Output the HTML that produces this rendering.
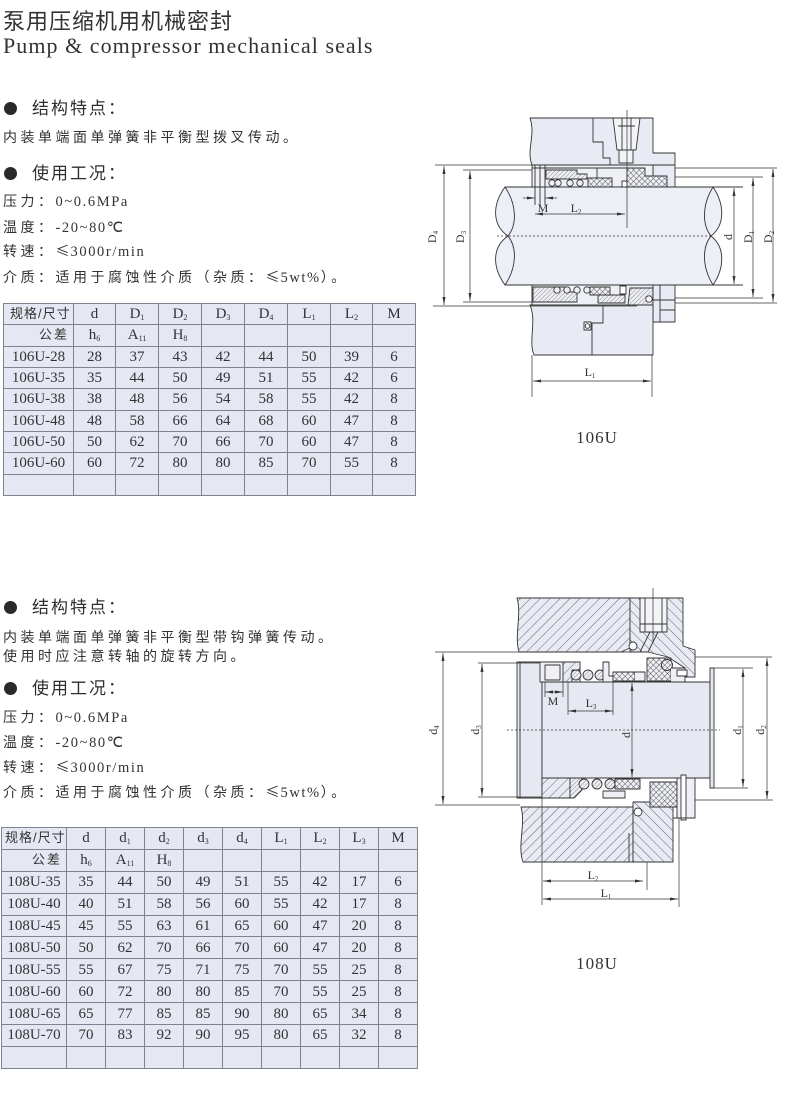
<!DOCTYPE html>
<html><head><meta charset="utf-8">
<style>
html,body{margin:0;padding:0;background:#fff;}
body{width:800px;height:1094px;position:relative;overflow:hidden;color:#2e2e2e;font-family:"Liberation Sans","Noto Sans CJK SC",sans-serif;}
.a{position:absolute;white-space:nowrap;}
.title{left:3px;top:11px;font-size:22px;line-height:22px;letter-spacing:1px;font-family:"Liberation Sans","Noto Sans CJK SC",sans-serif;color:#333;}
.eng{left:3px;top:35px;font-size:22px;line-height:22px;letter-spacing:1.05px;font-family:"Liberation Serif",serif;color:#333;}
.dot{position:absolute;width:13px;height:13px;border-radius:50%;background:#2a2a2a;left:4px;}
.hd{left:32px;font-size:17px;line-height:17px;letter-spacing:2px;font-family:"Liberation Sans","Noto Sans CJK SC",sans-serif;}
.bd{left:3px;font-size:14px;line-height:14px;letter-spacing:3.5px;font-family:"Liberation Sans","Noto Sans CJK SC",sans-serif;color:#333;}
.bd .s{font-family:"Liberation Serif",serif;letter-spacing:1.6px;font-size:14.5px;}
.bd .le{font-family:"Noto Sans CJK SC",sans-serif;font-size:14px;letter-spacing:1px;}
table.t{position:absolute;border-collapse:collapse;table-layout:fixed;background:#e5e8f2;font-family:"Liberation Serif","Noto Sans CJK SC",serif;font-size:15px;color:#333;}
table.t td{border:1px solid #80838f;padding:0;text-align:center;line-height:14px;overflow:hidden;white-space:nowrap;}
table.t td.c{font-family:"Liberation Sans","Noto Sans CJK SC",sans-serif;font-size:13px;letter-spacing:1px;text-align:left;padding-left:6px;}
table.t td.r{font-family:"Liberation Sans","Noto Sans CJK SC",sans-serif;font-size:13px;letter-spacing:2px;text-align:right;padding-right:4px;}
table.t sub{font-size:8px;vertical-align:-2px;line-height:0;}
table.t1 tr{height:21.33px;}
table.t2 tr{height:21.9px;}
.cap{font-family:"Liberation Serif",serif;font-size:17px;letter-spacing:1px;}
</style></head><body>

<div class="a title">泵用压缩机用机械密封</div>
<div class="a eng">Pump &amp; compressor mechanical seals</div>

<div class="dot" style="top:102px"></div>
<div class="a hd" style="top:100px">结构特点：</div>
<div class="a bd" style="top:130px">内装单端面单弹簧非平衡型拨叉传动。</div>
<div class="dot" style="top:167px"></div>
<div class="a hd" style="top:165px">使用工况：</div>
<div class="a bd" style="top:194px">压力：<span class="s">0~0.6MPa</span></div>
<div class="a bd" style="top:220px">温度：<span class="s">-20~80℃</span></div>
<div class="a bd" style="top:244px">转速：<span class="le">≤</span><span class="s">3000r/min</span></div>
<div class="a bd" style="top:270px">介质：适用于腐蚀性介质（杂质：<span class="le">≤</span><span class="s">5wt%</span>）。</div>

<table class="t t1" style="left:3px;top:303px;width:413px;">
<colgroup><col style="width:70px"><col style="width:42px"><col style="width:43px"><col style="width:43px"><col style="width:43px"><col style="width:43px"><col style="width:43px"><col style="width:42px"><col style="width:43px"></colgroup>
<tr><td class="c">规格/尺寸</td><td>d</td><td>D<sub>1</sub></td><td>D<sub>2</sub></td><td>D<sub>3</sub></td><td>D<sub>4</sub></td><td>L<sub>1</sub></td><td>L<sub>2</sub></td><td>M</td></tr>
<tr><td class="r">公差</td><td>h<sub>6</sub></td><td>A<sub>11</sub></td><td>H<sub>8</sub></td><td></td><td></td><td></td><td></td><td></td></tr>
<tr><td>106U-28</td><td>28</td><td>37</td><td>43</td><td>42</td><td>44</td><td>50</td><td>39</td><td>6</td></tr>
<tr><td>106U-35</td><td>35</td><td>44</td><td>50</td><td>49</td><td>51</td><td>55</td><td>42</td><td>6</td></tr>
<tr><td>106U-38</td><td>38</td><td>48</td><td>56</td><td>54</td><td>58</td><td>55</td><td>42</td><td>8</td></tr>
<tr><td>106U-48</td><td>48</td><td>58</td><td>66</td><td>64</td><td>68</td><td>60</td><td>47</td><td>8</td></tr>
<tr><td>106U-50</td><td>50</td><td>62</td><td>70</td><td>66</td><td>70</td><td>60</td><td>47</td><td>8</td></tr>
<tr><td>106U-60</td><td>60</td><td>72</td><td>80</td><td>80</td><td>85</td><td>70</td><td>55</td><td>8</td></tr>
<tr><td>&nbsp;</td><td>&nbsp;</td><td>&nbsp;</td><td>&nbsp;</td><td>&nbsp;</td><td>&nbsp;</td><td>&nbsp;</td><td>&nbsp;</td><td>&nbsp;</td></tr>
</table>

<div class="dot" style="top:601px"></div>
<div class="a hd" style="top:599px">结构特点：</div>
<div class="a bd" style="top:630px">内装单端面单弹簧非平衡型带钩弹簧传动。</div>
<div class="a bd" style="top:649px">使用时应注意转轴的旋转方向。</div>
<div class="dot" style="top:682px"></div>
<div class="a hd" style="top:680px">使用工况：</div>
<div class="a bd" style="top:710px">压力：<span class="s">0~0.6MPa</span></div>
<div class="a bd" style="top:735px">温度：<span class="s">-20~80℃</span></div>
<div class="a bd" style="top:760px">转速：<span class="le">≤</span><span class="s">3000r/min</span></div>
<div class="a bd" style="top:785px">介质：适用于腐蚀性介质（杂质：<span class="le">≤</span><span class="s">5wt%</span>）。</div>

<table class="t t2" style="left:1px;top:827px;width:416px;">
<colgroup><col style="width:65px"><col style="width:39px"><col style="width:39px"><col style="width:39px"><col style="width:39px"><col style="width:39px"><col style="width:39px"><col style="width:39px"><col style="width:39px"><col style="width:39px"></colgroup>
<tr><td class="c" style="padding-left:3px">规格/尺寸</td><td>d</td><td>d<sub>1</sub></td><td>d<sub>2</sub></td><td>d<sub>3</sub></td><td>d<sub>4</sub></td><td>L<sub>1</sub></td><td>L<sub>2</sub></td><td>L<sub>3</sub></td><td>M</td></tr>
<tr><td class="r">公差</td><td>h<sub>6</sub></td><td>A<sub>11</sub></td><td>H<sub>8</sub></td><td></td><td></td><td></td><td></td><td></td><td></td></tr>
<tr><td>108U-35</td><td>35</td><td>44</td><td>50</td><td>49</td><td>51</td><td>55</td><td>42</td><td>17</td><td>6</td></tr>
<tr><td>108U-40</td><td>40</td><td>51</td><td>58</td><td>56</td><td>60</td><td>55</td><td>42</td><td>17</td><td>8</td></tr>
<tr><td>108U-45</td><td>45</td><td>55</td><td>63</td><td>61</td><td>65</td><td>60</td><td>47</td><td>20</td><td>8</td></tr>
<tr><td>108U-50</td><td>50</td><td>62</td><td>70</td><td>66</td><td>70</td><td>60</td><td>47</td><td>20</td><td>8</td></tr>
<tr><td>108U-55</td><td>55</td><td>67</td><td>75</td><td>71</td><td>75</td><td>70</td><td>55</td><td>25</td><td>8</td></tr>
<tr><td>108U-60</td><td>60</td><td>72</td><td>80</td><td>80</td><td>85</td><td>70</td><td>55</td><td>25</td><td>8</td></tr>
<tr><td>108U-65</td><td>65</td><td>77</td><td>85</td><td>85</td><td>90</td><td>80</td><td>65</td><td>34</td><td>8</td></tr>
<tr><td>108U-70</td><td>70</td><td>83</td><td>92</td><td>90</td><td>95</td><td>80</td><td>65</td><td>32</td><td>8</td></tr>
<tr><td>&nbsp;</td><td>&nbsp;</td><td>&nbsp;</td><td>&nbsp;</td><td>&nbsp;</td><td>&nbsp;</td><td>&nbsp;</td><td>&nbsp;</td><td>&nbsp;</td><td>&nbsp;</td></tr>
</table>

<svg width="800" height="1094" style="position:absolute;left:0;top:0" xmlns="http://www.w3.org/2000/svg">
<defs>
<marker id="ar" viewBox="0 0 8 3" refX="8" refY="1.5" markerWidth="8" markerHeight="3" markerUnits="userSpaceOnUse" orient="auto-start-reverse"><path d="M0,0 L8,1.5 L0,3 Z" fill="#333"/></marker>
<pattern id="h1" width="7" height="7" patternUnits="userSpaceOnUse" patternTransform="rotate(45)"><rect width="7" height="7" fill="#e8ebf4"/><line x1="0" y1="0" x2="0" y2="7" stroke="#444" stroke-width="0.8"/></pattern>
<pattern id="h2" width="7" height="7" patternUnits="userSpaceOnUse" patternTransform="rotate(-45)"><rect width="7" height="7" fill="#e8ebf4"/><line x1="0" y1="0" x2="0" y2="7" stroke="#444" stroke-width="0.8"/></pattern>
<pattern id="hs" width="3" height="3" patternUnits="userSpaceOnUse" patternTransform="rotate(45)"><rect width="3" height="3" fill="#eef0f6"/><line x1="0" y1="0" x2="0" y2="3" stroke="#444" stroke-width="0.6"/></pattern>
<pattern id="cx" width="4" height="4" patternUnits="userSpaceOnUse" patternTransform="rotate(45)"><rect width="4" height="4" fill="#eef0f6"/><path d="M0,0 V4 M0,0 H4" stroke="#333" stroke-width="0.8"/></pattern>
</defs>

<!-- ============ Diagram 1 (106U) ============ -->
<g stroke="#333" stroke-width="0.9" fill="none" stroke-linejoin="round">
<path d="M505,187 L713,187 C725,205 725,225 711,236 C725,247 725,267 713,285 L505,285 C492,267 492,247 508,236 C492,225 492,205 505,187 Z" fill="#edeff6"/>
<path d="M505,187 C517,205 517,225 508,236 C517,247 517,267 505,285"/>
<path d="M713,187 C702,205 702,225 711,236 C702,247 702,267 713,285"/>
<path d="M713,187 H743 M713,285 H743"/>
<path d="M530,118 L653,118 L653,153 L675,153 L675,187 L653,187 L653,165 L532,165 C526,150 536,135 530,118 Z" fill="#e8ebf4"/>
<path d="M593,118 V142 H603 V158 H610 V165"/>
<path d="M613,118 L640,118 L636,150 L617,150 Z" fill="#f3f4f8"/>
<rect x="619" y="150" width="14" height="13" fill="#f3f4f8"/>
<path d="M618,126 H635 M622,118 V150 M631,118 V150"/>
<path d="M653,165 H675"/>
<rect x="532" y="165" width="121" height="22" fill="#eef0f6"/>
<path d="M532,168 H627"/>
<path d="M546,170 H577 V174 H587 V179 H546 Z" fill="url(#hs)"/>
<circle cx="552" cy="183" r="3.2" fill="#eef0f6"/><circle cx="558" cy="183" r="3.2" fill="#eef0f6"/><circle cx="570" cy="183" r="3.2" fill="#eef0f6"/><circle cx="580" cy="183" r="3.2" fill="#eef0f6"/>
<rect x="588" y="178" width="24" height="9" fill="url(#cx)"/>
<path d="M597,168 V178"/>
<rect x="622" y="181" width="5" height="6" fill="#fff"/>
<path d="M627,168 H645 V176 H667 V187 H627 Z" fill="url(#cx)"/>
<path d="M535,165 V205 M540,165 V205 M545,165 V205"/>
<rect x="532" y="285" width="121" height="20" fill="#eef0f6"/>
<path d="M533,287 H565 V292 H577 V302 H533 Z" fill="url(#hs)"/>
<circle cx="557" cy="290" r="3.2" fill="#eef0f6"/><circle cx="567" cy="290" r="3.2" fill="#eef0f6"/><circle cx="577" cy="290" r="3.2" fill="#eef0f6"/><circle cx="587" cy="290" r="3.2" fill="#eef0f6"/>
<rect x="590" y="287" width="20" height="8" fill="url(#cx)"/>
<path d="M598,295 H625 V303 H598 Z" fill="url(#hs)"/>
<rect x="620" y="286" width="6" height="8" fill="#fff"/>
<path d="M630,288 H653 V305 H628 Z" fill="url(#hs)"/>
<circle cx="649" cy="299" r="3.2" fill="#fff"/>
<rect x="653" y="285" width="22" height="37" fill="#e8ebf4"/>
<path d="M660,285 V322 M653,300 H675 M660,310 H675"/>
<path d="M530,305 L653,305 L653,355 L534,355 C528,340 537,322 530,305 Z" fill="#e8ebf4"/>
<path d="M603,305 V323 H592 V355"/>
<rect x="584" y="322" width="7" height="8" fill="#fff"/>
<circle cx="587.5" cy="326" r="2.3"/>
</g>
<g stroke="#333" stroke-width="0.7" fill="none">
<path d="M627,110 V228"/>
<path d="M497,236 H713" stroke-dasharray="2,2"/>
<path d="M435,165 H637 M463,170 H532 M463,302 H535 M433,306 H637"/>
<path d="M675,168 H777 M675,177 H763 M675,298 H763 M675,303 H777"/>
<path d="M444,166 V305" marker-start="url(#ar)" marker-end="url(#ar)"/>
<path d="M470,171 V301" marker-start="url(#ar)" marker-end="url(#ar)"/>
<path d="M734,188 V284" marker-start="url(#ar)" marker-end="url(#ar)"/>
<path d="M753,178 V297" marker-start="url(#ar)" marker-end="url(#ar)"/>
<path d="M773,169 V302" marker-start="url(#ar)" marker-end="url(#ar)"/>
<path d="M523,198 H535" marker-end="url(#ar)"/>
<path d="M557,198 H545" marker-end="url(#ar)"/>
<path d="M535,214 H625" marker-start="url(#ar)" marker-end="url(#ar)"/>
<path d="M532,355 V397 M652,355 V397"/>
<path d="M533,381 H651" marker-start="url(#ar)" marker-end="url(#ar)"/>
</g>
<g font-family="Liberation Serif, serif" font-size="12" fill="#333" text-anchor="middle">
<text x="543" y="212">M</text>
<text x="576" y="212">L<tspan font-size="7" dy="2">2</tspan></text>
<text x="590" y="376">L<tspan font-size="7" dy="2">1</tspan></text>
<text transform="translate(436,237) rotate(-90)">D<tspan font-size="7" dy="2">4</tspan></text>
<text transform="translate(464,237) rotate(-90)">D<tspan font-size="7" dy="2">3</tspan></text>
<text transform="translate(732,237) rotate(-90)">d</text>
<text transform="translate(752,237) rotate(-90)">D<tspan font-size="7" dy="2">1</tspan></text>
<text transform="translate(772,237) rotate(-90)">D<tspan font-size="7" dy="2">2</tspan></text>
</g>
<text x="597" y="443" text-anchor="middle" class="cap" fill="#333">106U</text>

<!-- ============ Diagram 2 (108U) ============ -->
<g stroke="#333" stroke-width="0.9" fill="none" stroke-linejoin="round">
<path d="M517,598 L630,598 L630,648 L621,652 L519,652 C514,635 522,615 517,598 Z" fill="url(#h1)"/>
<path d="M630,598 L683,598 L683,646 L695,650 L695,677 L685,677 L685,668 L668,657 L648,652 L630,652 Z" fill="url(#h2)"/>
<rect x="640" y="598" width="27" height="34" fill="#f3f4f8"/>
<path d="M645,598 V632 M662,598 V632 M640,624 H667"/>
<path d="M650,632 L640,652 M658,632 L648,652"/>
<circle cx="633" cy="646" r="4" fill="#fff"/>
<path d="M620,652 L630,652"/>
<rect x="517" y="662" width="25" height="136" fill="#e6e9f2"/>
<path d="M520,662 V798"/>
<rect x="542" y="682" width="168" height="96" fill="#e6e9f2"/>
<rect x="710" y="668" width="4" height="120" fill="#e6e9f2"/>
<rect x="540" y="662" width="40" height="20" fill="#eef0f6"/>
<rect x="545" y="665" width="15" height="15" fill="#eef0f6"/>
<path d="M563,662 H580 V670 H572 V682 H563 Z" fill="url(#h1)"/>
<circle cx="576" cy="675" r="5" fill="url(#hs)"/><circle cx="588" cy="675" r="5" fill="url(#hs)"/><circle cx="600" cy="675" r="5" fill="url(#hs)"/>
<path d="M603,662 H609 V676 H620 V682 H603 Z" fill="#eef0f6"/>
<rect x="613" y="672" width="22" height="9" fill="url(#cx)"/>
<path d="M635,672 H645 V681 H635" fill="#eef0f6"/>
<rect x="647" y="658" width="24" height="23" fill="url(#cx)"/>
<circle cx="667" cy="665" r="5.5" fill="url(#cx)"/>
<path d="M671,668 H685 V682 H671" fill="#eef0f6"/>
<rect x="677" y="670" width="10" height="6" fill="#fff"/>
<rect x="542" y="778" width="28" height="20" fill="url(#h1)"/>
<path d="M570,778 H582 V790 L574,798 H570 Z" fill="url(#hs)"/>
<circle cx="584" cy="784" r="5" fill="url(#hs)"/><circle cx="597" cy="784" r="5" fill="url(#hs)"/><circle cx="610" cy="784" r="5" fill="url(#hs)"/>
<rect x="615" y="779" width="25" height="10" fill="url(#cx)"/>
<path d="M603,791 H625 V798 H603 Z" fill="#eef0f6"/>
<path d="M650,782 H677 V807 H650 Z" fill="url(#cx)"/>
<rect x="677" y="778" width="18" height="40" fill="#eef0f6"/>
<rect x="681" y="775" width="5" height="45" fill="#fff"/>
<path d="M521,807 L633,807 L633,862 L523,862 C517,845 526,825 521,807 Z" fill="url(#h1)"/>
<path d="M633,802 L650,802 L650,807 L673,807 L673,862 L633,862 Z" fill="url(#h2)"/>
<path d="M673,818 H695"/>
<path d="M629,833 V862"/>
<circle cx="638" cy="812" r="4" fill="#fff"/>
</g>
<g stroke="#333" stroke-width="0.7" fill="none">
<path d="M653,588 V642"/>
<path d="M507,730 H720" stroke-dasharray="2,2"/>
<path d="M435,652 H620 M478,663 H540 M478,797 H542 M435,805 H520"/>
<path d="M695,657 H772 M713,668 H753 M713,788 H748 M695,800 H773"/>
<path d="M443,653 V804" marker-start="url(#ar)" marker-end="url(#ar)"/>
<path d="M482,664 V796" marker-start="url(#ar)" marker-end="url(#ar)"/>
<path d="M632,683 V777" marker-start="url(#ar)" marker-end="url(#ar)"/>
<path d="M743,669 V787" marker-start="url(#ar)" marker-end="url(#ar)"/>
<path d="M767,658 V799" marker-start="url(#ar)" marker-end="url(#ar)"/>
<path d="M545,682 V697 M563,682 V697"/>
<path d="M545,692 H563" marker-start="url(#ar)" marker-end="url(#ar)"/>
<path d="M568,682 V715 M613,682 V715"/>
<path d="M568,711 H613" marker-start="url(#ar)" marker-end="url(#ar)"/>
<path d="M542,798 V905 M647,862 V890 M679,818 V907"/>
<path d="M543,881 H643" marker-start="url(#ar)" marker-end="url(#ar)"/>
<path d="M543,899 H678" marker-start="url(#ar)" marker-end="url(#ar)"/>
</g>
<g font-family="Liberation Serif, serif" font-size="12" fill="#333" text-anchor="middle">
<text x="553" y="705">M</text>
<text x="591" y="707">L<tspan font-size="7" dy="2">3</tspan></text>
<text x="593" y="879">L<tspan font-size="7" dy="2">2</tspan></text>
<text x="606" y="897">L<tspan font-size="7" dy="2">1</tspan></text>
<text transform="translate(437,730) rotate(-90)">d<tspan font-size="7" dy="2">4</tspan></text>
<text transform="translate(479,730) rotate(-90)">d<tspan font-size="7" dy="2">3</tspan></text>
<text transform="translate(630,735) rotate(-90)">d</text>
<text transform="translate(741,730) rotate(-90)">d<tspan font-size="7" dy="2">1</tspan></text>
<text transform="translate(764,730) rotate(-90)">d<tspan font-size="7" dy="2">2</tspan></text>
</g>
<text x="597" y="969" text-anchor="middle" class="cap" fill="#333">108U</text>
</svg>
</body></html>
